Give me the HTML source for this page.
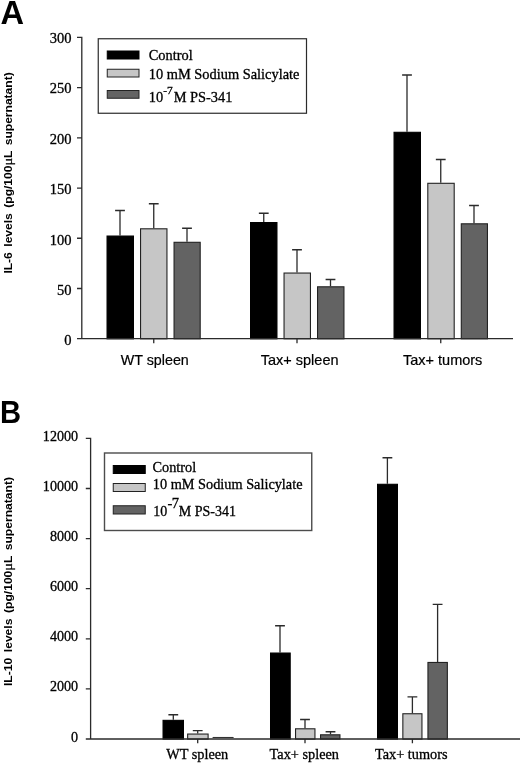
<!DOCTYPE html>
<html lang="en"><head><meta charset="utf-8"><title>Figure</title>
<style>
html,body{margin:0;padding:0;background:#fff;}
body{width:520px;height:763px;overflow:hidden;}
svg{display:block;}
text{fill:#000;}
.tk,.lg,.xb{stroke:#000;stroke-width:0.3px;}
.xa{stroke:#000;stroke-width:0.2px;}
.pl{font:bold 31.5px "Liberation Sans",Arial,sans-serif;}
.tk,.lg,.xb{font:14.5px "Liberation Serif","Times New Roman",serif;}
.xb,.lb{font-size:14.3px;}
.tb{font-size:14.1px;}
.la{font-size:14.4px;}
.sup{font-size:11.4px;}
.xa{font:14.5px "Liberation Sans",Arial,sans-serif;}
.yl{font:bold 11px "Liberation Sans",Arial,sans-serif;word-spacing:2px;}
.mu{font-family:"Liberation Serif",serif;font-weight:normal;font-size:13px;stroke:#000;stroke-width:0.25px;}
</style></head><body>
<svg width="520" height="763" viewBox="0 0 520 763">
<rect width="520" height="763" fill="#fff"/>
<text x="0.6" y="23.8" class="pl" style="font-size:32.6px">A</text>
<path d="M120.00 235.50V210.50M115.10 210.50H124.90" stroke="#2b2b2b" stroke-width="1.3" fill="none"/><rect x="107.05" y="236.05" width="26.40" height="102.75" fill="#000" stroke="#000" stroke-width="1.1"/>
<path d="M153.75 228.25V203.75M148.85 203.75H158.65" stroke="#2b2b2b" stroke-width="1.3" fill="none"/><rect x="140.55" y="228.80" width="26.40" height="110.00" fill="#c6c6c6" stroke="#222" stroke-width="1.1"/>
<path d="M187.00 241.75V228.25M182.10 228.25H191.90" stroke="#2b2b2b" stroke-width="1.3" fill="none"/><rect x="174.05" y="242.30" width="26.15" height="96.50" fill="#636363" stroke="#222" stroke-width="1.1"/>
<path d="M263.75 222.00V213.25M258.85 213.25H268.65" stroke="#2b2b2b" stroke-width="1.3" fill="none"/><rect x="250.55" y="222.55" width="26.40" height="116.25" fill="#000" stroke="#000" stroke-width="1.1"/>
<path d="M297.00 272.50V249.75M292.10 249.75H301.90" stroke="#2b2b2b" stroke-width="1.3" fill="none"/><rect x="284.05" y="273.05" width="26.40" height="65.75" fill="#c6c6c6" stroke="#222" stroke-width="1.1"/>
<path d="M330.50 286.25V279.50M325.60 279.50H335.40" stroke="#2b2b2b" stroke-width="1.3" fill="none"/><rect x="317.55" y="286.80" width="26.40" height="52.00" fill="#636363" stroke="#222" stroke-width="1.1"/>
<path d="M407.00 131.75V75.00M402.10 75.00H411.90" stroke="#2b2b2b" stroke-width="1.3" fill="none"/><rect x="394.05" y="132.30" width="26.40" height="206.50" fill="#000" stroke="#000" stroke-width="1.1"/>
<path d="M440.75 182.75V159.50M435.85 159.50H445.65" stroke="#2b2b2b" stroke-width="1.3" fill="none"/><rect x="427.80" y="183.30" width="26.40" height="155.50" fill="#c6c6c6" stroke="#222" stroke-width="1.1"/>
<path d="M474.00 223.25V205.50M469.10 205.50H478.90" stroke="#2b2b2b" stroke-width="1.3" fill="none"/><rect x="461.30" y="223.80" width="26.15" height="115.00" fill="#636363" stroke="#222" stroke-width="1.1"/>
<path d="M81.8 36.8V338.7H513M77 37.40H81.8M77 87.62H81.8M77 137.83H81.8M77 188.05H81.8M77 238.27H81.8M77 288.48H81.8M77 338.70H81.8M153.75 338.7V343.2M297 338.7V343.2M440.75 338.7V343.2" stroke="#2b2b2b" stroke-width="1.3" fill="none"/>
<text x="71.5" y="43.00" class="tk" text-anchor="end">300</text>
<text x="71.5" y="93.39" class="tk" text-anchor="end">250</text>
<text x="71.5" y="143.77" class="tk" text-anchor="end">200</text>
<text x="71.5" y="194.16" class="tk" text-anchor="end">150</text>
<text x="71.5" y="244.55" class="tk" text-anchor="end">100</text>
<text x="71.5" y="294.93" class="tk" text-anchor="end">50</text>
<text x="71.5" y="345.32" class="tk" text-anchor="end">0</text>
<text x="120.75" y="365" class="xa" style="font-size:14.3px">WT spleen</text>
<text x="260.75" y="365" class="xa">Tax+ spleen</text>
<text x="403" y="365" class="xa">Tax+ tumors</text>
<text transform="translate(12.3 273.6) rotate(-90) scale(1.1 1)" class="yl" textLength="183" lengthAdjust="spacing">IL-6 levels (pg/100<tspan class="mu">μ</tspan>L supernatant)</text>
<rect x="98.25" y="38.75" width="208.25" height="74.5" fill="#fff" stroke="#2b2b2b" stroke-width="1.2"/>
<rect x="107.25" y="51.0" width="31.75" height="8.0" fill="#000" stroke="#000" stroke-width="1"/>
<rect x="107.25" y="69.25" width="31.75" height="7.75" fill="#c6c6c6" stroke="#222" stroke-width="1"/>
<rect x="107.25" y="90.5" width="31.75" height="7.75" fill="#636363" stroke="#222" stroke-width="1"/>
<text x="148.75" y="60.4" class="lg la">Control</text>
<text x="148.75" y="78.6" class="lg la">10 mM Sodium Salicylate</text>
<text x="148.75" y="102.4" class="lg la">10<tspan dy="-8.6" class="sup">-7</tspan><tspan dy="8.6" dx="1">M PS-341</tspan></text>
<text transform="translate(0.1 423.1) scale(0.915 1)" class="pl" style="font-size:31.9px">B</text>
<path d="M173.30 719.80V714.75M168.40 714.75H178.20" stroke="#2b2b2b" stroke-width="1.3" fill="none"/><rect x="163.05" y="720.35" width="20.40" height="18.75" fill="#000" stroke="#000" stroke-width="1.1"/>
<path d="M197.70 733.50V730.60M192.80 730.60H202.60" stroke="#2b2b2b" stroke-width="1.3" fill="none"/><rect x="187.65" y="734.05" width="20.45" height="5.05" fill="#c6c6c6" stroke="#222" stroke-width="1.1"/>
<path d="M280.00 652.50V625.75M275.10 625.75H284.90" stroke="#2b2b2b" stroke-width="1.3" fill="none"/><rect x="270.55" y="653.05" width="19.65" height="86.05" fill="#000" stroke="#000" stroke-width="1.1"/>
<path d="M305.00 728.25V719.50M300.10 719.50H309.90" stroke="#2b2b2b" stroke-width="1.3" fill="none"/><rect x="295.55" y="728.80" width="19.40" height="10.30" fill="#c6c6c6" stroke="#222" stroke-width="1.1"/>
<path d="M330.50 734.25V731.75M325.60 731.75H335.40" stroke="#2b2b2b" stroke-width="1.3" fill="none"/><rect x="320.55" y="734.80" width="19.40" height="4.30" fill="#636363" stroke="#222" stroke-width="1.1"/>
<path d="M387.40 483.75V457.75M382.50 457.75H392.30" stroke="#2b2b2b" stroke-width="1.3" fill="none"/><rect x="377.55" y="484.30" width="19.90" height="254.80" fill="#000" stroke="#000" stroke-width="1.1"/>
<path d="M412.40 713.20V696.90M407.50 696.90H417.30" stroke="#2b2b2b" stroke-width="1.3" fill="none"/><rect x="402.85" y="713.75" width="19.10" height="25.35" fill="#c6c6c6" stroke="#222" stroke-width="1.1"/>
<path d="M437.60 661.90V604.30M432.70 604.30H442.50" stroke="#2b2b2b" stroke-width="1.3" fill="none"/><rect x="427.95" y="662.45" width="19.40" height="76.65" fill="#636363" stroke="#222" stroke-width="1.1"/>
<path d="M212.6 737.5H233.6" stroke="#333" stroke-width="1.1" fill="none"/>
<path d="M90.6 437.79999999999995V739.0H521M85.8 438.40H90.6M85.8 488.50H90.6M85.8 538.60H90.6M85.8 588.70H90.6M85.8 638.80H90.6M85.8 688.90H90.6M85.8 739.00H90.6M197.7 739.0V743.2M305 739.0V743.2M412.4 739.0V743.2" stroke="#2b2b2b" stroke-width="1.3" fill="none"/>
<text x="78.1" y="440.90" class="tk tb" text-anchor="end">12000</text>
<text x="78.1" y="491.00" class="tk tb" text-anchor="end">10000</text>
<text x="78.1" y="541.10" class="tk tb" text-anchor="end">8000</text>
<text x="78.1" y="591.20" class="tk tb" text-anchor="end">6000</text>
<text x="78.1" y="641.30" class="tk tb" text-anchor="end">4000</text>
<text x="78.1" y="691.40" class="tk tb" text-anchor="end">2000</text>
<text x="78.1" y="741.50" class="tk tb" text-anchor="end">0</text>
<text x="166.2" y="759.3" class="xb">WT spleen</text>
<text x="269.6" y="759.3" class="xb">Tax+ spleen</text>
<text x="375" y="759.3" class="xb">Tax+ tumors</text>
<text transform="translate(12.3 686) rotate(-90) scale(1.1 1)" class="yl" textLength="190" lengthAdjust="spacing">IL-10 levels (pg/100<tspan class="mu">μ</tspan>L supernatant)</text>
<rect x="104.5" y="453" width="207.25" height="77.5" fill="#fff" stroke="#4c4c4c" stroke-width="1.4"/>
<rect x="113.25" y="465.5" width="32.0" height="8" fill="#000" stroke="#000" stroke-width="1"/>
<rect x="113.25" y="483.5" width="32.0" height="8" fill="#c6c6c6" stroke="#222" stroke-width="1"/>
<rect x="113.25" y="505.75" width="32.0" height="8.25" fill="#636363" stroke="#222" stroke-width="1"/>
<text x="152.5" y="471.75" class="lg lb">Control</text>
<text x="152.8" y="489.4" class="lg lb">10 mM Sodium Salicylate</text>
<text x="153.2" y="516.1" class="lg lb" style="font-size:14px">10<tspan dy="-8.2" dx="0.3" style="font-size:14.6px;letter-spacing:-0.7px">-7</tspan><tspan dy="8.2" dx="0.5">M PS-341</tspan></text>
</svg>
</body></html>
